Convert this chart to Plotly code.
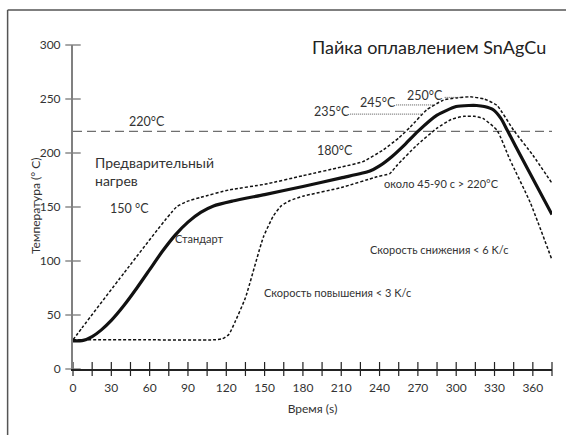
import plotly.graph_objects as go

# Reflow profile for SnAgCu solder: time in seconds, temperature in °C
std_t = [0, 8, 15, 22, 30, 40, 50, 60, 70, 80, 90, 100, 110, 125, 150, 180, 210, 232,
         240, 250, 260, 270, 285, 300, 310, 316, 322, 329, 335, 340, 352, 375]
std_T = [26, 26.5, 30, 36, 45, 59, 75, 92, 109, 124, 136, 145, 151, 155.5, 161.5, 169, 177, 183,
         188, 197, 208, 220, 235, 243, 244, 244, 243, 240, 232, 221, 194, 143]

max_t = [0, 7, 40, 81, 89, 100, 123, 150, 180, 210, 227, 243, 255, 264, 277, 290, 300, 311,
         322, 332, 345, 360, 375]
max_T = [27, 38, 89, 150, 155, 159, 166, 171, 179, 187, 192, 203, 214, 224, 240, 249, 251, 252,
         250, 244, 221, 198, 172]

min_t = [0, 60, 110, 117, 122, 127, 135, 149, 157, 163, 170, 180, 210, 238, 248, 254, 269, 285,
         296, 306, 314, 321, 332, 342, 358, 375]
min_T = [27, 27, 27, 28, 32, 44, 66, 122, 142, 151, 156, 160, 168, 178, 181, 189, 207, 223,
         231, 234, 234, 232, 221, 194, 154, 101]

liquidus_t = [0, 375]
liquidus_T = [220, 220]

# Peak temperature markers: label, label position, leader end on the curve
peak_labels = ["235°C", "245°C", "250°C"]
peak_T = [236, 244.5, 251.5]
peak_label_t = [187, 223, 260]
peak_leader_start = [217, 253, 291]
peak_leader_end = [274, 284, 303]

x_tick_vals = list(range(0, 376, 15))
x_label_vals = list(range(0, 361, 30))
y_tick_vals = [0, 50, 100, 150, 200, 250, 300]

FONT = "Lato, 'Noto Sans', sans-serif"
TXT = "#333333"

fig = go.Figure()

# 220 °C liquidus line
fig.add_trace(go.Scatter(x=liquidus_t, y=liquidus_T, mode="lines",
                         line=dict(color="#6f6f6f", width=1.3, dash="9px,5px"),
                         hoverinfo="skip"))

# Tolerance band (dotted)
for xs, ys in [(max_t, max_T), (min_t, min_T)]:
    fig.add_trace(go.Scatter(x=xs, y=ys, mode="lines",
                             line=dict(color="#111111", width=1.5, dash="3px,2px",
                                       shape="spline", smoothing=0.5),
                             hoverinfo="skip"))

# Leader lines for peak temperatures
for s, e, T in zip(peak_leader_start, peak_leader_end, peak_T):
    fig.add_trace(go.Scatter(x=[s, e], y=[T, T], mode="lines",
                             line=dict(color="#555555", width=1, dash="1px,1px"),
                             hoverinfo="skip"))

# Standard profile
fig.add_trace(go.Scatter(x=std_t, y=std_T, mode="lines",
                         line=dict(color="#111111", width=3.2, shape="spline", smoothing=0.6),
                         hoverinfo="skip"))

# Crossing tick marks on both axes
fig.add_trace(go.Scatter(x=x_tick_vals, y=[0] * len(x_tick_vals), mode="markers",
                         marker=dict(symbol="line-ns", size=10,
                                     line=dict(color="#222222", width=1.2)),
                         cliponaxis=False, hoverinfo="skip"))
fig.add_trace(go.Scatter(x=[0] * len(y_tick_vals), y=y_tick_vals, mode="markers",
                         marker=dict(symbol="line-ew", size=11,
                                     line=dict(color="#777777", width=1.3)),
                         cliponaxis=False, hoverinfo="skip"))

annotations = [
    dict(x=372, y=298, text="Пайка оплавлением SnAgCu", xanchor="right",
         font=dict(size=18, color="#222222")),
    dict(x=58, y=229.5, text="220°C", xanchor="center", font=dict(size=12.5)),
    dict(x=15.5, y=183, text="Предварительный<br>нагрев", xanchor="left", align="left",
         font=dict(size=14)),
    dict(x=44, y=148.5, text="150 °C", xanchor="center", font=dict(size=12.5)),
    dict(x=99, y=120.5, text="Стандарт", xanchor="center", font=dict(size=11)),
    dict(x=148, y=70.5, text="Скорость повышения < 3 K/c", xanchor="left", font=dict(size=11)),
    dict(x=205, y=202, text="180°C", xanchor="center", font=dict(size=12.5)),
    dict(x=242, y=171.5, text="около 45-90 с > 220°C", xanchor="left", font=dict(size=11)),
    dict(x=231, y=110.5, text="Скорость снижения < 6 K/c", xanchor="left", font=dict(size=11)),
]
for lbl, lt, T in zip(peak_labels, peak_label_t, peak_T):
    annotations.append(dict(x=lt, y=T + 2, text=lbl, xanchor="left", font=dict(size=12.5)))
for a in annotations:
    a.update(showarrow=False, xref="x", yref="y")
    a.setdefault("yanchor", "middle")
    a["font"].setdefault("color", TXT)
    a["font"]["family"] = FONT

# Y axis title
annotations.append(dict(x=-0.078, y=0.505, xref="paper", yref="paper", showarrow=False,
                        text="Температура (° C)", textangle=-90, xanchor="center",
                        yanchor="middle", font=dict(family=FONT, size=12, color=TXT)))

fig.update_layout(
    width=566, height=435,
    margin=dict(l=73.3, r=14.3, t=45, b=65.7),
    paper_bgcolor="white", plot_bgcolor="white",
    showlegend=False,
    font=dict(family=FONT, color=TXT, size=12),
    annotations=annotations,
    shapes=[
        # figure frame (top and left edges)
        dict(type="line", xref="paper", yref="paper", x0=-0.1365, x1=1.05, y0=1.1078, y1=1.1078,
             line=dict(color="#555555", width=1.5)),
        dict(type="line", xref="paper", yref="paper", x0=-0.1365, x1=-0.1365, y0=1.1078, y1=-0.25,
             line=dict(color="#555555", width=1.5)),
    ],
)

fig.update_xaxes(range=[0, 375], showgrid=False, zeroline=False, showline=True,
                 linecolor="#222222", linewidth=1.5, ticks="", tickvals=x_label_vals,
                 ticklabelstandoff=7, tickfont=dict(size=12, color=TXT),
                 title=dict(text="Время (s)", font=dict(size=12, color=TXT), standoff=10))
fig.update_yaxes(range=[0, 300], showgrid=False, zeroline=False, showline=True,
                 linecolor="#808080", linewidth=2, ticks="", tickvals=y_tick_vals,
                 ticklabelstandoff=8, tickfont=dict(size=12, color=TXT))

fig.write_html("out.html")
